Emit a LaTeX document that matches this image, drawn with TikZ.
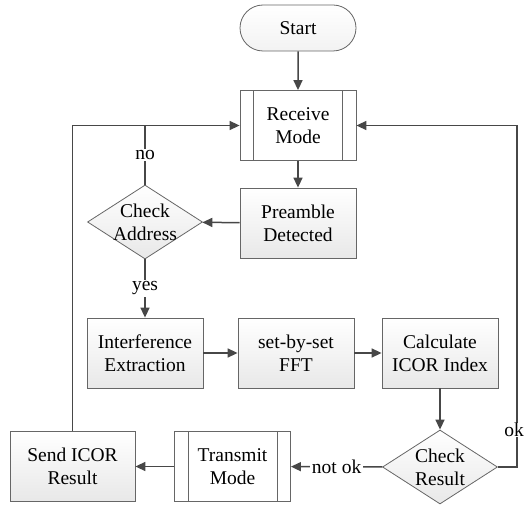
\documentclass[tikz,border=0pt]{standalone}
\usepackage{fontspec}
\setmainfont{LiberationSerif}[Extension=.ttf, UprightFont=*-Regular, BoldFont=*-Bold]
\usetikzlibrary{shapes.geometric,shapes.misc,arrows.meta}

\begin{document}
\begin{tikzpicture}[x=1pt,y=-1pt,
    font=\fontsize{19.5}{23}\selectfont,
    line/.style={draw=black!72, line width=1.5pt},
    arr/.style={line, -{Triangle[length=10pt,width=9pt]}},
    box/.style={draw=black!60, line width=0.8pt, top color=white, bottom color=black!9,
      align=center, minimum width=116pt, minimum height=70pt, inner sep=0pt},
    mode/.style={box, top color=white, bottom color=white},
    terminal/.style={box, rounded rectangle, minimum height=46pt, bottom color=black!5},
    decision/.style={draw=black!60, line width=0.8pt, diamond, top color=white, bottom color=black!9,
      minimum width=115pt, minimum height=74pt, inner sep=0pt},
    tag/.style={fill=white, inner sep=1.5pt}]
  \useasboundingbox (0,0) rectangle (525,505);

  \node[terminal] (start) at (298,28) {Start};
  \node[mode] (recv) at (298,125.5) {Receive\\Mode};
  \node[box] (pre) at (298,223) {Preamble\\Detected};
  \node[decision, label={[align=center]center:Check\\Address}] (addr) at (145,222) {};
  \node[box] (interf) at (145,353) {Interference\\Extraction};
  \node[box] (fft) at (296,353) {set-by-set\\FFT};
  \node[box] (calc) at (440,353) {Calculate\\ICOR Index};
  \node[decision, label={[align=center]center:Check\\Result}] (res) at (440,467) {};
  \node[mode] (trans) at (232.5,466.5) {Transmit\\Mode};
  \node[box, minimum width=125pt] (send) at (72.5,466.5) {Send ICOR\\Result};
  \coordinate (okturn) at (517,467);

  % side bars of the mode boxes
  \foreach \n in {recv,trans} {
    \draw[draw=black!60, line width=0.8pt]
      ([xshift=14pt]\n.north west) -- ([xshift=14pt]\n.south west)
      ([xshift=-14pt]\n.north east) -- ([xshift=-14pt]\n.south east);
  }

  \draw[arr] (start) -- (recv);
  \draw[arr] (recv) -- (pre);
  \draw[arr] (pre) -- (addr);
  \draw[arr] (addr) -- node[tag] {yes} (interf);
  \draw[arr] (interf) -- (fft);
  \draw[arr] (fft) -- (calc);
  \draw[arr] (calc) -- (res);
  \draw[arr] (res) -- node[tag] {not ok} (trans);
  \draw[arr] (trans) -- (send);

  % loops back to receive mode
  \draw[arr] (send.north) |- (recv.west);
  \draw[line] (addr.north) -- node[tag] {no} (addr.north |- recv.west);
  \draw[arr] (res.east) -- (okturn) |- (recv.east);
  \node[tag, inner sep=0.5pt] (ok) at (514,430) {ok};
\end{tikzpicture}
\end{document}
